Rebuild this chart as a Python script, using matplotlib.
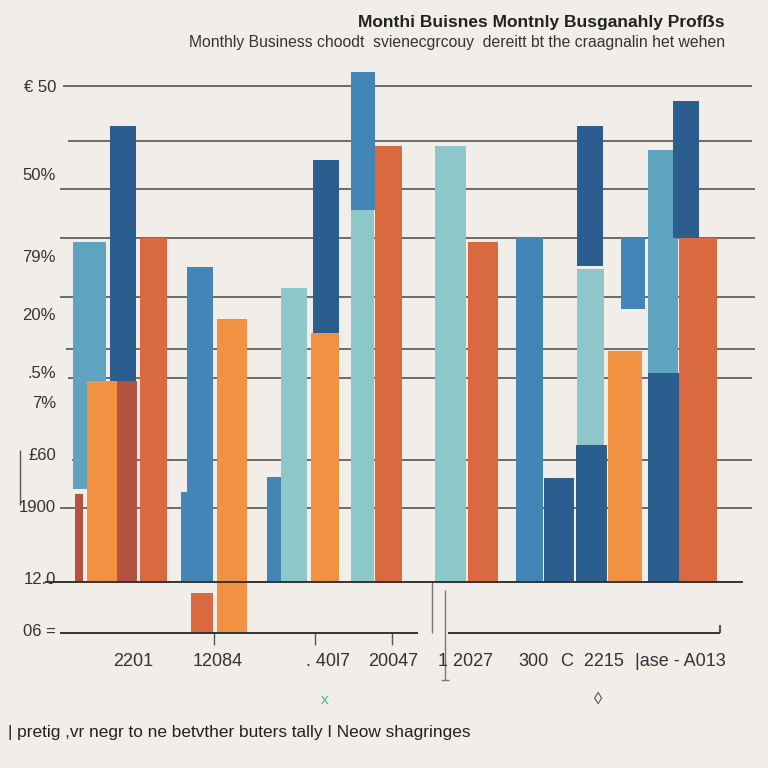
import matplotlib.pyplot as plt
from matplotlib import font_manager

# floating bars: (left, right) in x units, (bottom, top) in value units
bar_left = [73, 75, 87, 110, 117, 140, 187, 181, 217, 191, 267, 281, 313, 311, 351, 351, 375,
            435, 468, 516, 544, 577, 577, 576, 608, 621, 648, 648, 673, 679]
bar_right = [106, 83, 117, 136, 137, 167, 213, 188, 247, 213, 281, 307, 339, 339, 374, 375, 402,
             466, 498, 543, 574, 603, 604, 607, 642, 645, 678, 679, 699, 717]
bar_bottom = [18.6, 0, 0, 40.2, 0, 0, 0, 0, -10.2, -10.2, 0, 0, 49.8, 0, 0, 74.4, 0,
              0, 0, 0, 0, 63.2, 27.4, 0, 0, 54.6, 41.8, 0, 68.8, 0]
bar_top = [68, 17.6, 40.2, 91.2, 40.2, 68.8, 63, 18, 52.6, -2.2, 21, 58.8, 84.4, 49.8, 74.4, 102, 87.2,
           87.2, 68, 69, 20.8, 91.2, 62.6, 27.4, 46.2, 68.8, 86.4, 41.8, 96.2, 68.8]
bar_series = ['lightblue', 'brown', 'orange', 'darkblue', 'brown', 'red', 'blue', 'blue', 'orange',
              'red', 'blue', 'teal', 'darkblue', 'orange', 'teal', 'blue', 'red',
              'teal', 'red', 'blue', 'darkblue', 'darkblue', 'teal', 'darkblue', 'orange', 'blue',
              'lightblue', 'darkblue', 'darkblue', 'red']

grid_y = [99.2, 88.2, 78.6, 68.8, 57, 46.6, 40.8, 24.4, 14.8]
grid_x0 = [63, 68, 60, 60, 60, 66, 68, 72, 60]
grid_x1 = [752, 752, 755, 755, 755, 755, 752, 752, 752]

ytick_vals = [99, 81.4, 65, 53.2, 41.8, 35.6, 25.2, 15, 0.4, -10]
ytick_labels = ['€ 50', '50%', '79%', '20%', '.5%', '7%', '£60', '1900', '12.0', '06 =']

xtick_pos = [133, 218, 328, 393, 465, 533, 592, 680]
xtick_labels = ['2201', '12084', '. 40l7', '20047', '1 2027', '300', 'C  2215', '|ase - A013']

colors = {'lightblue': '#5ea4c1', 'darkblue': '#2c5d8f', 'blue': '#4385b7', 'teal': '#8dc7ca',
          'orange': '#f19242', 'red': '#d96a40', 'brown': '#b4533f'}
bg = '#f1ede8'

plt.rcParams['font.family'] = ['Liberation Sans', 'DejaVu Sans']
installed = {f.name for f in font_manager.fontManager.ttflist}
title_family = ['Liberation Sans Narrow'] if 'Liberation Sans Narrow' in installed else ['Liberation Sans']
title_size = 15 if 'Liberation Sans Narrow' in installed else 12.5

fig = plt.figure(figsize=(7.68, 7.68), dpi=100, facecolor=bg)
ax = fig.add_axes([0, 78 / 768, 1, 650 / 768])
ax.set_facecolor(bg)
ax.set_xlim(0, 768)
ax.set_ylim(-21.6, 108.4)
ax.axis('off')

# gridlines behind bars
ax.hlines(grid_y, grid_x0, grid_x1, color='#555555', lw=1.2, zorder=1)
ax.hlines(0, 45, 743, color='#333333', lw=1.4, zorder=5)
ax.hlines(-10.2, 60, 418, color='#333333', lw=1.4, zorder=5)
ax.hlines(-10.2, 448, 720, color='#333333', lw=1.4, zorder=5)
ax.vlines(720, -10.2, -8.5, color='#333333', lw=1.2)
ax.vlines([214, 315, 392], -12.5, -10.2, color='#555555', lw=1.0)
ax.vlines(432, -10.2, 0, color='#777777', lw=1.0)
ax.vlines(445, -19.6, -1.6, color='#777777', lw=1.0)
ax.hlines(-19.6, 441, 449, color='#777777', lw=1.0)
ax.vlines(20, 15.4, 26.4, color='#555555', lw=1.0)

for i in range(len(bar_left)):
    w = bar_right[i] - bar_left[i]
    ax.bar(bar_left[i], bar_top[i] - bar_bottom[i], bottom=bar_bottom[i], width=w,
           align='edge', color=colors[bar_series[i]], zorder=2 + i * 0.01)

for v, lab in zip(ytick_vals, ytick_labels):
    ax.text(56, v, lab, ha='right', va='center', fontsize=12, color='#333333')

for x, lab in zip(xtick_pos, xtick_labels):
    ax.text(x, -15.8, lab, ha='center', va='center', fontsize=13, color='#333333')

ax.text(325, -23.6, 'x', ha='center', va='center', fontsize=11, color='#4bb39a')
ax.text(598, -23.6, '◊', ha='center', va='center', fontsize=12, color='#444444')

fig.text(725 / 768, 1 - 22 / 768, 'Monthi Buisnes Montnly Busganahly Profẞs', ha='right',
         va='center', fontsize=title_size, fontweight='bold', color='#222222',
         family=title_family + ['DejaVu Sans'])
fig.text(725 / 768, 1 - 42 / 768,
         'Monthly Business choodt  svienecgrcouy  dereitt bt the craagnalin het wehen',
         ha='right', va='center', fontsize=11.3, color='#333333')
fig.text(8 / 768, 1 - 733 / 768,
         '| pretig ,vr negr to ne betvther buters tally I Neow shagringes',
         ha='left', va='center', fontsize=12.4, color='#222222')

fig.savefig('out.png', dpi=100, facecolor=bg)
